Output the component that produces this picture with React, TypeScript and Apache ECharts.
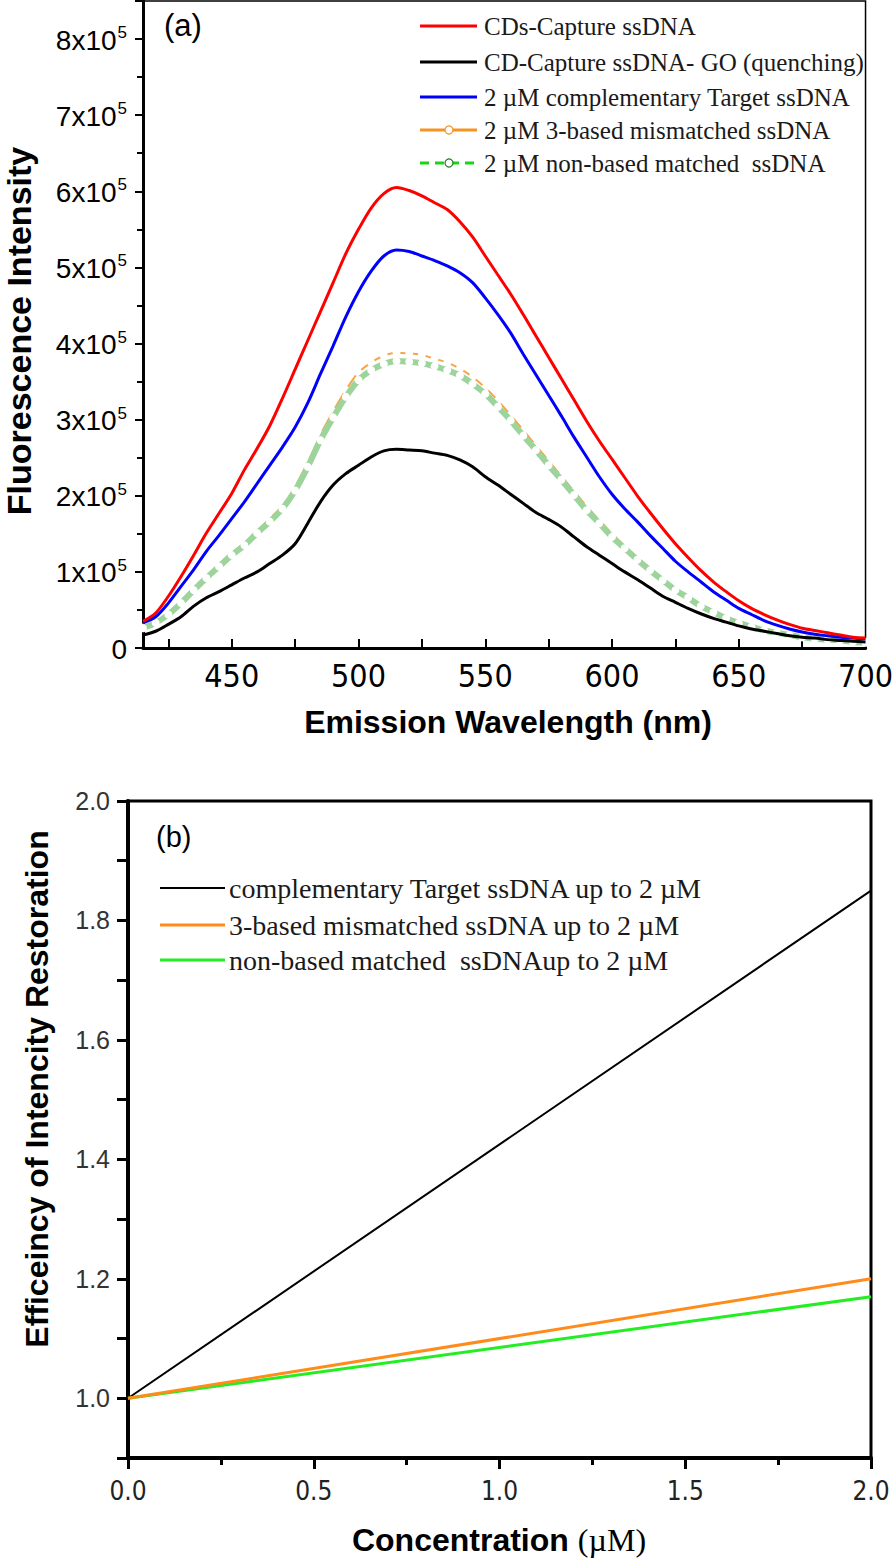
import React, { useEffect, useRef } from "react";
import * as echarts from "echarts";

// ---------- Panel (a) data ----------
const wavelength = [
  415, 420, 425, 430, 435, 440, 445, 450, 455, 460, 465, 470, 475, 480, 485, 490, 495, 500, 505, 510,
  515, 520, 525, 530, 535, 540, 545, 550, 555, 560, 565, 570, 575, 580, 585, 590, 595, 600, 605, 610,
  615, 620, 625, 630, 635, 640, 645, 650, 655, 660, 665, 670, 675, 680, 685, 690, 695, 700,
];
// intensities in units of 10^5
const redCapture = [
  0.35, 0.46, 0.68, 0.94, 1.22, 1.51, 1.77, 2.03, 2.34, 2.62, 2.92, 3.28, 3.66, 4.04, 4.42, 4.8, 5.18, 5.5, 5.78, 5.97,
  6.05, 6.01, 5.94, 5.85, 5.76, 5.6, 5.4, 5.15, 4.9, 4.65, 4.38, 4.1, 3.82, 3.54, 3.26, 2.98, 2.72, 2.48, 2.24, 2.0,
  1.78, 1.57, 1.37, 1.19, 1.02, 0.87, 0.74, 0.62, 0.52, 0.44, 0.37, 0.31, 0.26, 0.23, 0.2, 0.17, 0.14, 0.13,
];
const blackQuench = [
  0.17, 0.22, 0.31, 0.41, 0.55, 0.66, 0.74, 0.83, 0.92, 1.0, 1.11, 1.22, 1.37, 1.64, 1.92, 2.14, 2.29, 2.4, 2.51, 2.59,
  2.61, 2.6, 2.59, 2.56, 2.53, 2.47, 2.38, 2.25, 2.14, 2.02, 1.9, 1.78, 1.69, 1.59, 1.46, 1.33, 1.22, 1.11, 1.0, 0.9,
  0.79, 0.68, 0.6, 0.52, 0.45, 0.39, 0.34, 0.29, 0.25, 0.22, 0.19, 0.16, 0.14, 0.13, 0.11, 0.1, 0.09, 0.08,
];
const blueTarget = [
  0.33, 0.41, 0.59, 0.81, 1.03, 1.27, 1.48, 1.7, 1.92, 2.16, 2.4, 2.64, 2.9, 3.22, 3.6, 3.97, 4.35, 4.68, 4.95, 5.15,
  5.23, 5.21, 5.15, 5.09, 5.02, 4.93, 4.8, 4.6, 4.38, 4.14, 3.86, 3.59, 3.32, 3.05, 2.77, 2.51, 2.25, 2.02, 1.83, 1.66,
  1.48, 1.31, 1.14, 1.0, 0.87, 0.74, 0.63, 0.52, 0.44, 0.36, 0.3, 0.25, 0.21, 0.18, 0.16, 0.14, 0.13, 0.12,
];
const orangeMismatch = [
  0.27, 0.34, 0.46, 0.61, 0.78, 0.94, 1.1, 1.25, 1.38, 1.54, 1.7, 1.87, 2.12, 2.44, 2.8, 3.11, 3.39, 3.62, 3.75, 3.84,
  3.88, 3.87, 3.85, 3.8, 3.75, 3.67, 3.56, 3.42, 3.25, 3.06, 2.86, 2.66, 2.46, 2.26, 2.06, 1.86, 1.68, 1.5, 1.34, 1.19,
  1.05, 0.91, 0.78, 0.68, 0.57, 0.48, 0.4, 0.34, 0.29, 0.24, 0.2, 0.17, 0.15, 0.13, 0.11, 0.1, 0.09, 0.08,
];
const greenNonMatch = [
  0.26, 0.33, 0.44, 0.59, 0.76, 0.92, 1.07, 1.22, 1.35, 1.51, 1.66, 1.83, 2.07, 2.38, 2.73, 3.03, 3.3, 3.52, 3.65, 3.73,
  3.77, 3.76, 3.74, 3.7, 3.65, 3.58, 3.47, 3.34, 3.17, 2.99, 2.79, 2.6, 2.4, 2.21, 2.01, 1.81, 1.64, 1.46, 1.31, 1.16,
  1.02, 0.89, 0.76, 0.66, 0.55, 0.47, 0.39, 0.33, 0.28, 0.23, 0.2, 0.17, 0.14, 0.12, 0.11, 0.1, 0.08, 0.07,
];
const namesA = [
  "CDs-Capture ssDNA",
  "CD-Capture ssDNA- GO (quenching)",
  "2 µM complementary Target ssDNA",
  "2 µM 3-based mismatched ssDNA",
  "2 µM non-based matched  ssDNA",
];
const xLabelsA = [450, 500, 550, 600, 650, 700];
const xTicksA = [425, 450, 475, 500, 525, 550, 575, 600, 625, 650, 675, 700];

// ---------- Panel (b) data ----------
const concentration = [0, 2];
const effTarget = [1.0, 1.85];
const effMismatch = [1.0, 1.2];
const effNonMatch = [1.0, 1.17];
const namesB = [
  "complementary Target ssDNA up to 2 µM",
  "3-based mismatched ssDNA up to 2 µM",
  "non-based matched  ssDNAup to 2 µM",
];

const SANS = "'Liberation Sans', Arial, sans-serif";
const NARROW = "'Liberation Sans Narrow', 'Arial Narrow', 'DejaVu Sans Condensed', sans-serif";
const SERIF = "'Liberation Serif', 'Times New Roman', serif";

const zip = (xs: number[], ys: number[]) => xs.map((x, i) => [x, ys[i]]);

export default function App() {
  const ref = useRef<HTMLDivElement>(null);
  useEffect(() => {
    if (!ref.current) return;
    const chart = echarts.init(ref.current, null, { renderer: "svg" });

    const legendA: any[] = [];
    const rowsA = [26, 62, 97, 130, 163];
    const colA = ["#ff0000", "#000000", "#0000ff", "#f39423", "#19d419"];
    rowsA.forEach((y, i) => {
      legendA.push({
        type: "line",
        shape: { x1: 420, y1: y, x2: 477, y2: y },
        style: { stroke: colA[i], lineWidth: 3, lineDash: i === 4 ? [9, 6] : null },
      });
      if (i >= 3) {
        legendA.push({
          type: "circle",
          shape: { cx: 449, cy: y, r: 4 },
          style: { fill: "#fff", stroke: i === 3 ? "#f39423" : "#1f7f1f", lineWidth: 1.2 },
        });
      }
      legendA.push({
        type: "text",
        x: 484,
        y,
        style: { text: namesA[i], font: `25px ${SERIF}`, fill: "#1a1a1a", verticalAlign: "middle" },
      });
    });

    const legendB: any[] = [];
    const rowsB = [888, 925, 960];
    const colB = ["#000000", "#ff8c1a", "#22ee22"];
    rowsB.forEach((y, i) => {
      legendB.push({
        type: "line",
        shape: { x1: 160, y1: y, x2: 225, y2: y },
        style: { stroke: colB[i], lineWidth: i === 0 ? 2 : 3 },
      });
      legendB.push({
        type: "text",
        x: 229,
        y,
        style: { text: namesB[i], font: `28px ${SERIF}`, fill: "#1a1a1a", verticalAlign: "middle" },
      });
    });

    chart.setOption({
      animation: false,
      backgroundColor: "#fff",
      grid: [
        { left: 143, right: 23, top: 1, height: 647, show: true, borderColor: "#000", borderWidth: 1.5, backgroundColor: "transparent" },
        { left: 128, right: 25, top: 801, height: 657, show: true, borderColor: "#000", borderWidth: 3, backgroundColor: "transparent" },
      ],
      xAxis: [
        {
          gridIndex: 0,
          type: "value",
          min: 415,
          max: 700,
          axisLine: { show: true, onZero: false, lineStyle: { color: "#000", width: 3 } },
          axisTick: { show: true, inside: true, length: 9, customValues: xTicksA, lineStyle: { color: "#000", width: 2 } },
          axisLabel: { customValues: xLabelsA, margin: 12, color: "#000", fontSize: 32, fontFamily: NARROW, showMaxLabel: true },
          splitLine: { show: false },
        },
        {
          gridIndex: 1,
          type: "value",
          min: 0,
          max: 2,
          interval: 0.5,
          axisLine: { show: true, onZero: false, lineStyle: { color: "#000", width: 4 } },
          axisTick: { show: true, inside: false, length: 11, lineStyle: { color: "#000", width: 3 } },
          minorTick: { show: true, splitNumber: 2, length: 7, lineStyle: { color: "#000", width: 3 } },
          axisLabel: { margin: 20, color: "#222", fontSize: 26, fontFamily: NARROW, formatter: (v: number) => v.toFixed(1) },
          splitLine: { show: false },
        },
      ],
      yAxis: [
        {
          gridIndex: 0,
          type: "value",
          min: 0,
          max: 8.5,
          interval: 1,
          axisLine: { show: true, onZero: false, lineStyle: { color: "#000", width: 3 } },
          axisTick: { show: true, inside: false, length: 8, lineStyle: { color: "#000", width: 2 } },
          minorTick: { show: true, splitNumber: 2, length: 6, lineStyle: { color: "#000", width: 2 } },
          axisLabel: {
            margin: 16,
            color: "#000",
            showMaxLabel: false,
            formatter: (v: number) => (v === 0 ? "{b|0}" : `{b|${v}x10}{s|5}`),
            rich: {
              b: { fontSize: 28, fontFamily: SANS, color: "#000", lineHeight: 30, verticalAlign: "bottom" },
              s: { fontSize: 17, fontFamily: SANS, color: "#000", lineHeight: 18, verticalAlign: "top", padding: [0, 0, 12, 1] },
            },
          },
          splitLine: { show: false },
        },
        {
          gridIndex: 1,
          type: "value",
          min: 0.9,
          max: 2.0,
          interval: 0.1,
          axisLine: { show: true, onZero: false, lineStyle: { color: "#000", width: 4 } },
          axisTick: { show: true, inside: false, length: 11, lineStyle: { color: "#000", width: 3 } },
          axisLabel: {
            margin: 18,
            color: "#333",
            fontSize: 25,
            fontFamily: SANS,
            formatter: (v: number) => (Math.round(v * 10) % 2 === 0 ? v.toFixed(1) : ""),
          },
          splitLine: { show: false },
        },
      ],
      series: [
        {
          type: "line", xAxisIndex: 0, yAxisIndex: 0, name: namesA[3], data: zip(wavelength, orangeMismatch),
          smooth: 0.3, symbol: "emptyCircle", symbolSize: 6, showSymbol: true,
          lineStyle: { color: "#f5a54a", width: 2 },
          itemStyle: { color: "#fff", borderColor: "#f5a54a", borderWidth: 1 },
          z: 1,
        },
        {
          type: "line", xAxisIndex: 0, yAxisIndex: 0, name: namesA[4], data: zip(wavelength, greenNonMatch),
          smooth: 0.3, symbol: "emptyCircle", symbolSize: 6, showSymbol: true,
          lineStyle: { color: "#9cd49c", width: 6 },
          itemStyle: { color: "#fff", borderColor: "#2e8b2e", borderWidth: 1 },
          z: 2,
        },
        {
          type: "line", xAxisIndex: 0, yAxisIndex: 0, name: namesA[1], data: zip(wavelength, blackQuench),
          smooth: 0.3, showSymbol: false, lineStyle: { color: "#000", width: 3 }, z: 3,
        },
        {
          type: "line", xAxisIndex: 0, yAxisIndex: 0, name: namesA[2], data: zip(wavelength, blueTarget),
          smooth: 0.3, showSymbol: false, lineStyle: { color: "#0000ff", width: 3 }, z: 3,
        },
        {
          type: "line", xAxisIndex: 0, yAxisIndex: 0, name: namesA[0], data: zip(wavelength, redCapture),
          smooth: 0.3, showSymbol: false, lineStyle: { color: "#ff0000", width: 3 }, z: 3,
        },
        {
          type: "line", xAxisIndex: 1, yAxisIndex: 1, name: namesB[0], data: zip(concentration, effTarget),
          showSymbol: false, lineStyle: { color: "#000", width: 2 },
        },
        {
          type: "line", xAxisIndex: 1, yAxisIndex: 1, name: namesB[2], data: zip(concentration, effNonMatch),
          showSymbol: false, lineStyle: { color: "#22ee22", width: 3 },
        },
        {
          type: "line", xAxisIndex: 1, yAxisIndex: 1, name: namesB[1], data: zip(concentration, effMismatch),
          showSymbol: false, lineStyle: { color: "#ff8c1a", width: 3 },
        },
      ],
      graphic: [
        ...legendA,
        ...legendB,
        { type: "text", x: 164, y: 25, style: { text: "(a)", font: `31px ${SANS}`, fill: "#000", verticalAlign: "middle" } },
        { type: "text", x: 156, y: 837, style: { text: "(b)", font: `29px ${SANS}`, fill: "#000", verticalAlign: "middle" } },
        {
          type: "text", x: 19, y: 331, rotation: Math.PI / 2,
          style: { text: "Fluorescence Intensity", font: `bold 34px ${SANS}`, fill: "#000", align: "center", verticalAlign: "middle" },
        },
        {
          type: "text", x: 508, y: 722,
          style: { text: "Emission Wavelength (nm)", font: `bold 32px ${SANS}`, fill: "#000", align: "center", verticalAlign: "middle" },
        },
        {
          type: "text", x: 37, y: 1089, rotation: Math.PI / 2,
          style: { text: "Efficeincy of Intencity Restoration", font: `bold 32px ${SANS}`, fill: "#000", align: "center", verticalAlign: "middle" },
        },
        {
          type: "text", x: 499, y: 1540,
          style: {
            text: "{a|Concentration}{b|(µM)}",
            align: "center",
            verticalAlign: "middle",
            rich: {
              a: { fontSize: 32, fontWeight: "bold", fontFamily: SANS, fill: "#000", color: "#000" },
              b: { fontSize: 32, fontFamily: SERIF, fill: "#000", color: "#000", padding: [0, 0, 0, 9] },
            },
          },
        },
      ],
    });
    return () => chart.dispose();
  }, []);
  return <div ref={ref} style={{ position: "absolute", left: 0, top: 0, width: 896, height: 1560 }} />;
}
